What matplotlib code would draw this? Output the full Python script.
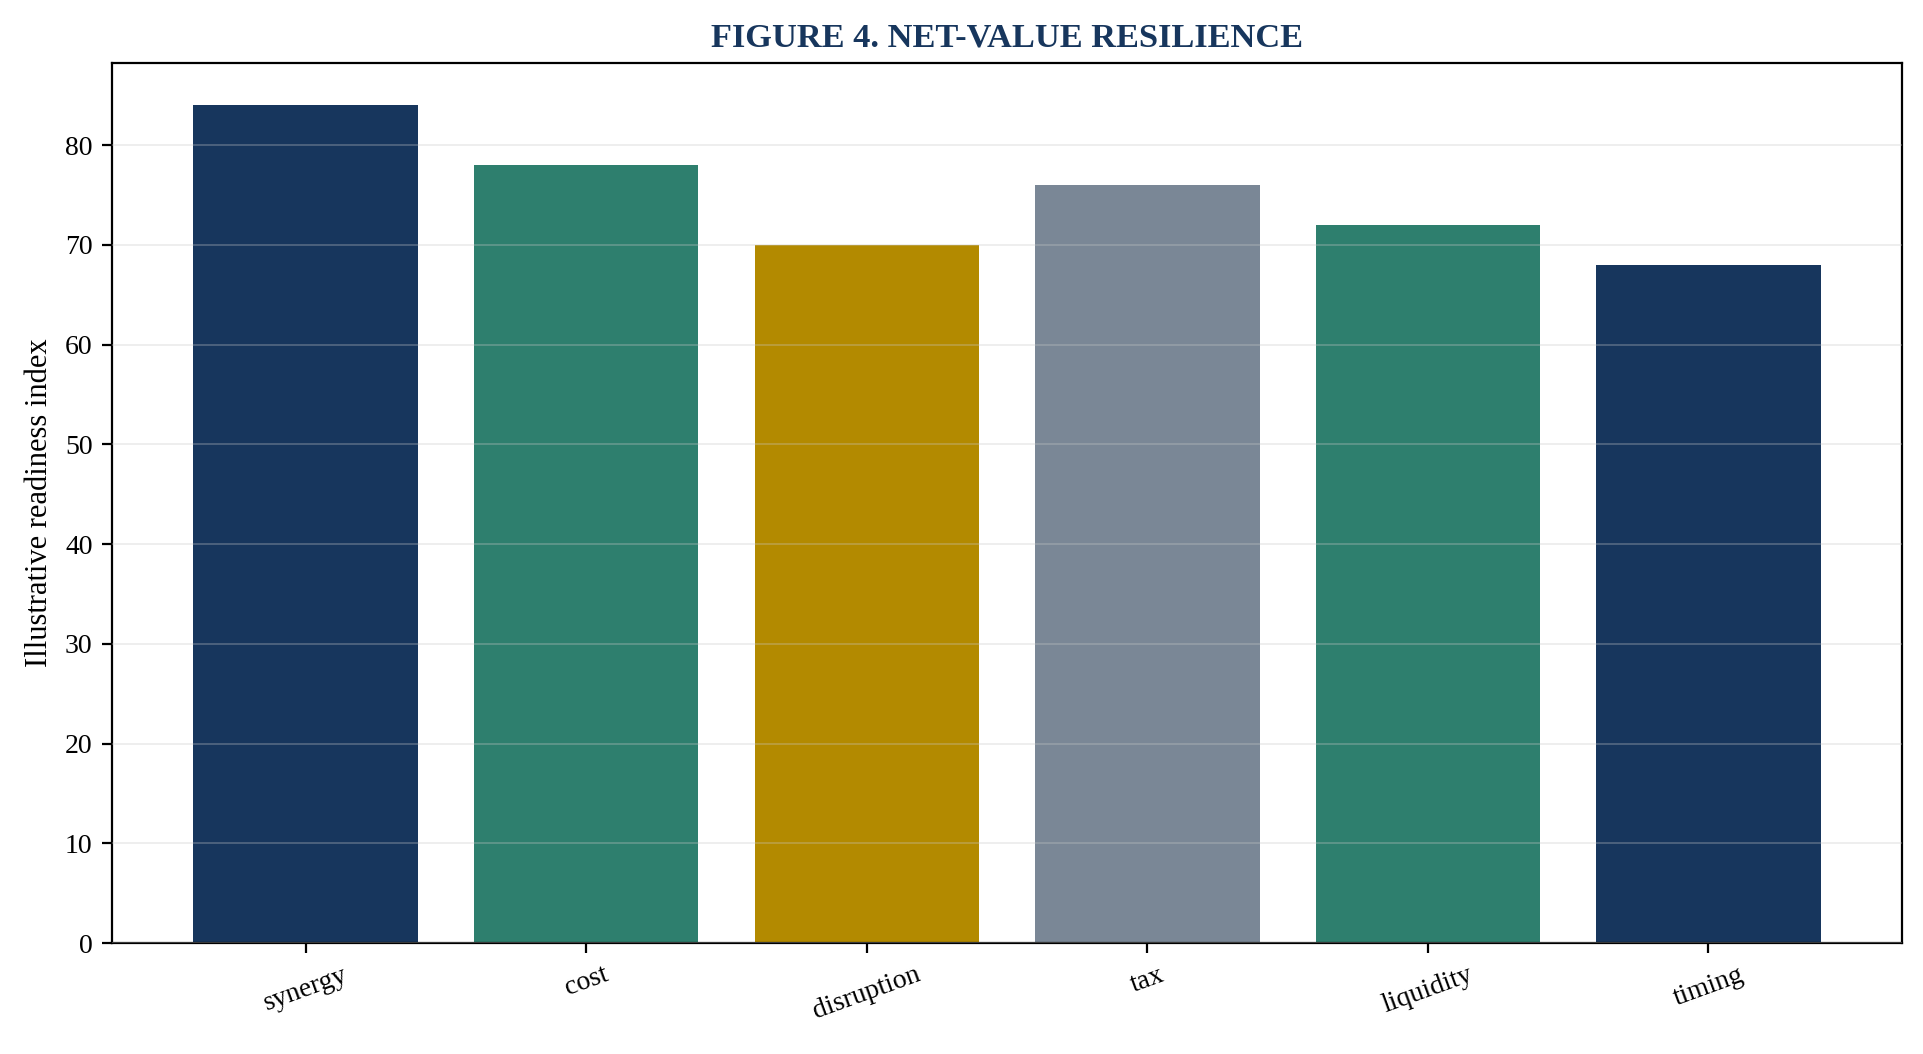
import matplotlib
matplotlib.use('Agg')
import matplotlib.pyplot as plt

# chart values
categories = ['synergy', 'cost', 'disruption', 'tax', 'liquidity', 'timing']
scores = [84, 78, 70, 76, 72, 68]
bar_colors = ['#17365d', '#2e7f6e', '#b38a00', '#7a8796', '#2e7f6e', '#17365d']

plt.rcParams['font.family'] = ['Liberation Serif', 'DejaVu Serif']
plt.rcParams['font.size'] = 10


def plot_data():
    """Draw the bar chart."""

    fig, ax = plt.subplots(figsize=[9.62, 5.27], dpi=200)
    ax.bar(categories, scores, color=bar_colors, width=0.8)

    ax.set_axisbelow(False)
    ax.yaxis.grid(True, color='#c8c8c8', alpha=0.3, linewidth=0.7)
    ax.set_ylabel('Illustrative readiness index', fontsize=11)
    ax.set_title('FIGURE 4. NET-VALUE RESILIENCE', fontsize=12.4,
                 fontweight='bold', color='#17365d', pad=6)
    plt.setp(ax.get_xticklabels(), rotation=20)

    fig.subplots_adjust(left=0.0582, right=0.9886, top=0.94, bottom=0.1053)
    return fig


def main():
    """Run the program."""

    fig = plot_data()
    fig.savefig('out.png', dpi=200)


if __name__ == '__main__':
    main()
